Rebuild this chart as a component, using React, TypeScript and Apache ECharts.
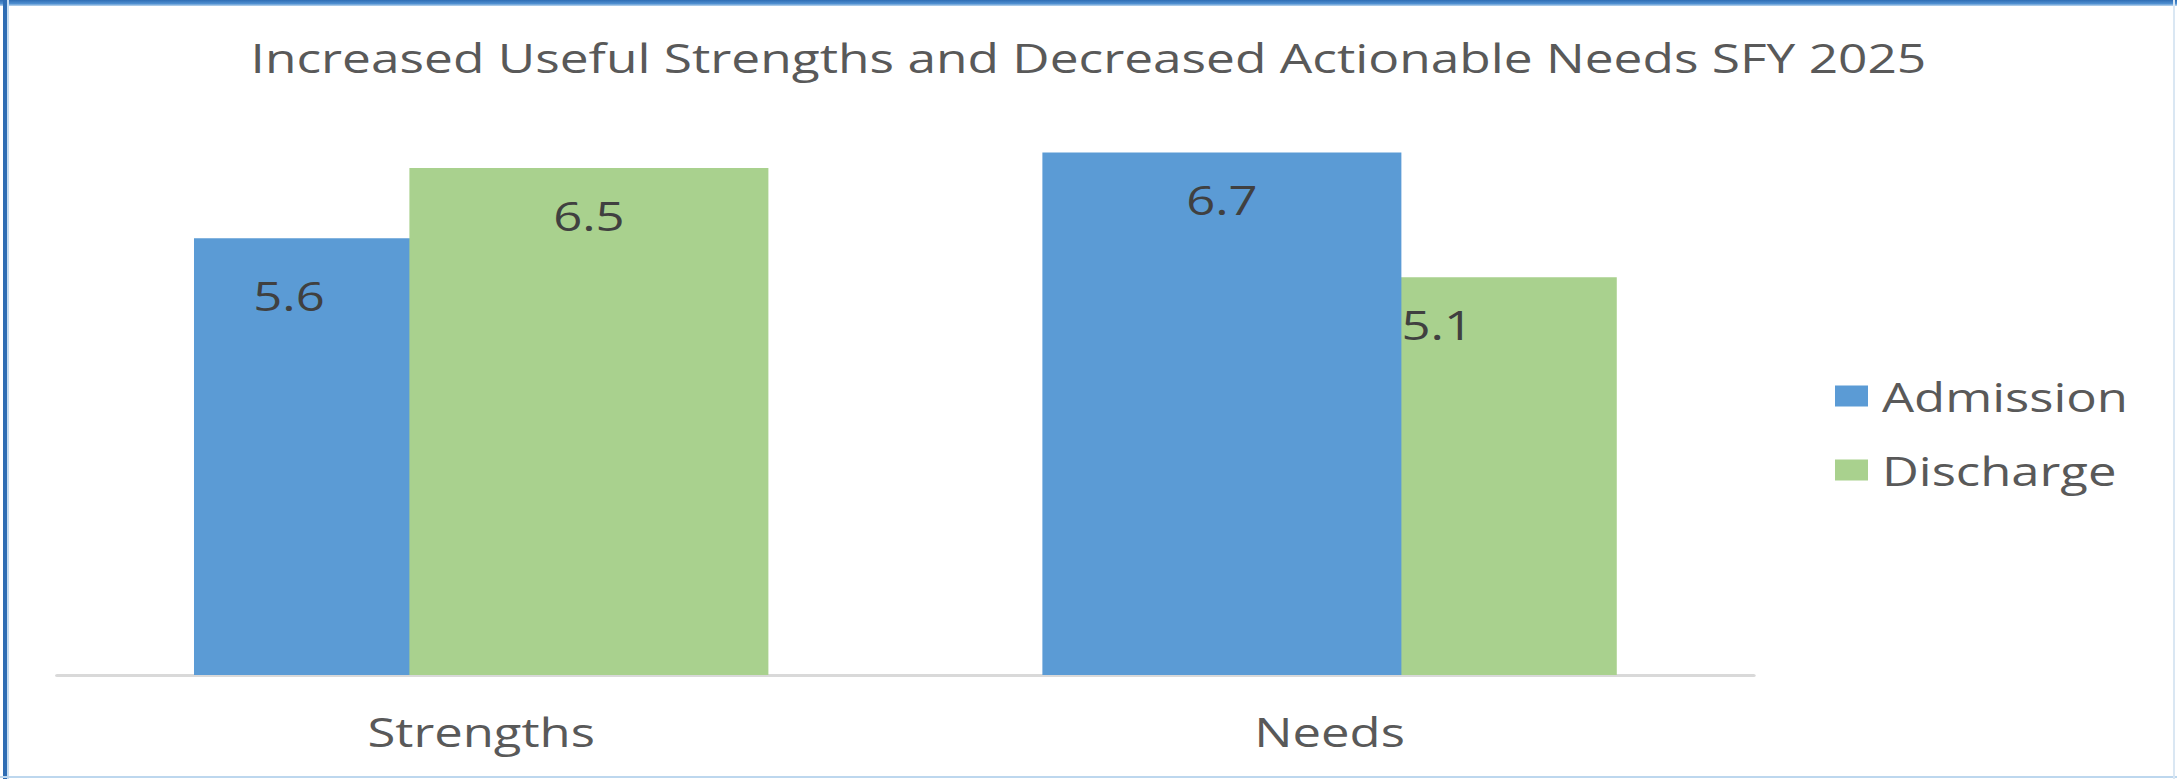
import React, { useEffect, useRef } from "react";
import * as echarts from "echarts";

const categories = ["Strengths", "Needs"];
const admission = [5.6, 6.7];
const discharge = [6.5, 5.1];
const seriesNames = ["Admission", "Discharge"];
const chartTitle = "Increased Useful Strengths and Decreased Actionable Needs SFY 2025";

const S = 1.27; // horizontal stretch of the reference
const FULL_W = 2177;
const FULL_H = 779;
const W = FULL_W / S;

const BLUE = "#5B9BD5";
const GREEN = "#A9D18E";
const FONT = "'Open Sans', sans-serif";

export default function App() {
  const ref = useRef<HTMLDivElement>(null);
  useEffect(() => {
    document.body.style.margin = "0";
    if (!ref.current) return;
    const chart = echarts.init(ref.current, null, { renderer: "svg" });
    const barWidth = 359 / S;
    const labelBase = {
      show: true,
      position: "insideTop",
      distance: 27,
      fontFamily: FONT,
      fontSize: 40,
      lineHeight: 40,
      color: "#404040",
      formatter: (p: any) => Number(p.value).toFixed(1),
    };
    // Admission: Strengths part lies underneath Discharge, Needs part is drawn on top
    const admLow = admission.map((v, i) =>
      i === 0 ? { value: v, label: { offset: [-84.5 / S, 10] } } : "-"
    );
    const admHigh = admission.map((v, i) => (i === 1 ? v : "-"));
    chart.setOption({
      animation: false,
      backgroundColor: "#ffffff",
      title: {
        text: chartTitle,
        left: "center",
        top: 37.5,
        padding: 0,
        textStyle: {
          fontFamily: FONT,
          fontSize: 40.5,
          lineHeight: 40,
          fontWeight: "normal",
          color: "#595959",
        },
      },
      legend: {
        data: seriesNames,
        orient: "vertical",
        left: 1835 / S,
        top: 376,
        padding: 0,
        itemWidth: 33 / S,
        itemHeight: 21,
        itemGap: 34,
        icon: "rect",
        textStyle: {
          fontFamily: FONT,
          fontSize: 40,
          lineHeight: 40,
          color: "#595959",
          padding: [0, 0, 0, 6],
        },
      },
      grid: {
        left: 57 / S,
        right: (FULL_W - 1754) / S,
        top: 51,
        bottom: 104,
        containLabel: false,
      },
      xAxis: {
        type: "category",
        data: categories,
        axisLine: { lineStyle: { color: "#D9D9D9", width: 3 } },
        axisTick: { show: false },
        axisLabel: {
          fontFamily: FONT,
          fontSize: 40,
          lineHeight: 40,
          color: "#595959",
          margin: 36,
        },
      },
      yAxis: {
        type: "value",
        min: 0,
        max: 8,
        show: false,
        splitLine: { show: false },
      },
      series: [
        {
          name: seriesNames[0],
          type: "bar",
          stack: "adm",
          data: admLow,
          barWidth,
          barGap: "-40%",
          itemStyle: { color: BLUE },
          label: labelBase,
          z: 2,
        },
        {
          name: seriesNames[1],
          type: "bar",
          data: discharge,
          barWidth,
          barGap: "-40%",
          itemStyle: { color: GREEN },
          label: labelBase,
          z: 3,
        },
        {
          name: seriesNames[0],
          type: "bar",
          stack: "adm",
          data: admHigh,
          barWidth,
          barGap: "-40%",
          itemStyle: { color: BLUE },
          label: labelBase,
          z: 3,
        },
      ],
    });
    return () => chart.dispose();
  }, []);

  return (
    <div
      style={{
        position: "fixed",
        left: 0,
        top: 0,
        width: FULL_W,
        height: FULL_H,
        overflow: "hidden",
        background: "#fff",
      }}
    >
      <div
        ref={ref}
        style={{
          position: "absolute",
          left: 0,
          top: 0,
          width: W,
          height: FULL_H,
          transform: `scaleX(${S})`,
          transformOrigin: "0 0",
        }}
      />
      <div style={{ position: "absolute", left: 0, top: 0, width: FULL_W, height: 6, background: "linear-gradient(#2E6DB4, #4F8FD0 60%, #BDD7EE)" }} />
      <div style={{ position: "absolute", left: 3, top: 0, width: 4, height: FULL_H, background: "#2E6DB4" }} />
      <div style={{ position: "absolute", left: 7, top: 0, width: 2, height: FULL_H, background: "#C5DCF0" }} />
      <div style={{ position: "absolute", left: 0, top: FULL_H - 3, width: FULL_W, height: 2, background: "#BDD7EE" }} />
      <div style={{ position: "absolute", left: FULL_W - 4, top: 0, width: 2, height: FULL_H, background: "#DAE7F3" }} />
    </div>
  );
}
